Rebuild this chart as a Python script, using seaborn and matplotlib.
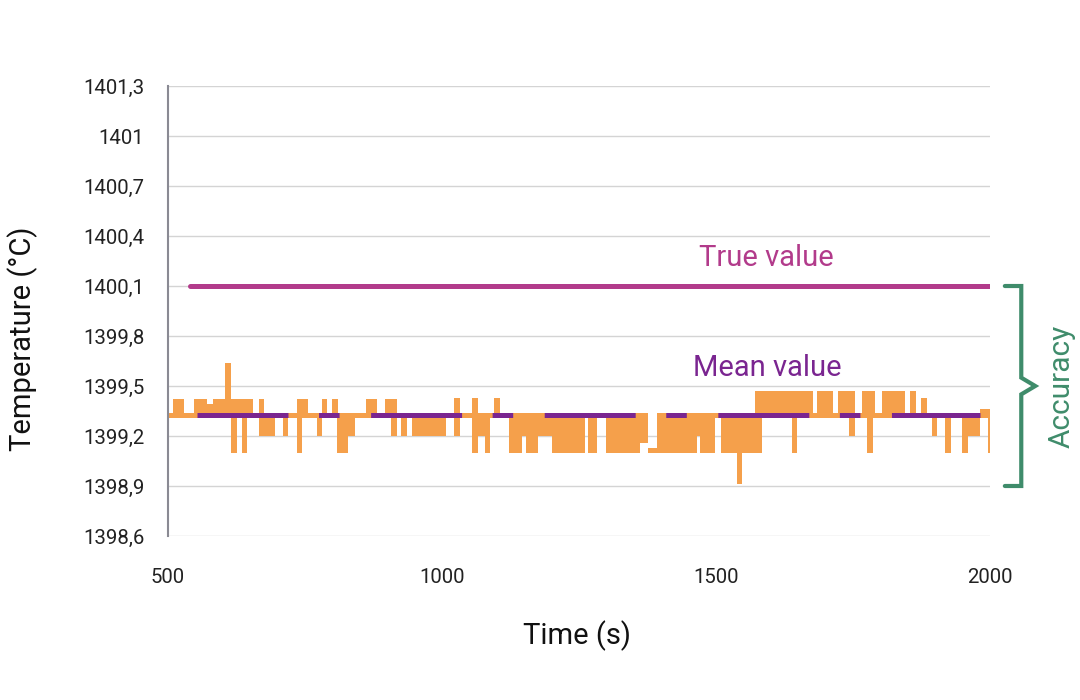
import matplotlib
matplotlib.use("Agg")
import matplotlib.pyplot as plt
import matplotlib.transforms as mtransforms
from matplotlib.ticker import FuncFormatter
import numpy as np
import pandas as pd
import seaborn as sns

# thermocouple readings, as a min / max envelope per time interval (interval start, s)
env_time = [500, 509, 529, 547, 571, 582, 604, 615, 626, 635, 644, 655, 666, 675, 695, 710, 719, 735,
            745, 755, 772, 781, 790, 799, 808, 810, 828, 841, 861, 881, 896, 907, 918, 925, 936, 945,
            1007, 1022, 1033, 1055, 1066, 1078, 1088, 1095, 1106, 1122, 1146, 1153, 1175, 1201, 1261,
            1266, 1283, 1299, 1361, 1376, 1392, 1465, 1471, 1498, 1509, 1538, 1547, 1571, 1584, 1639,
            1648, 1677, 1684, 1713, 1723, 1743, 1754, 1766, 1776, 1786, 1790, 1803, 1845, 1854, 1865,
            1874, 1885, 1894, 1903, 1918, 1929, 1949, 1960, 1982, 1996, 2000]
env_low = [1399.31, 1399.31, 1399.31, 1399.31, 1399.31, 1399.31, 1399.31, 1399.10, 1399.31, 1399.10,
           1399.31, 1399.31, 1399.20, 1399.20, 1399.31, 1399.20, 1399.31, 1399.10, 1399.31, 1399.31,
           1399.20, 1399.31, 1399.31, 1399.31, 1399.10, 1399.10, 1399.20, 1399.31, 1399.31, 1399.31,
           1399.31, 1399.20, 1399.31, 1399.20, 1399.31, 1399.20, 1399.31, 1399.20, 1399.31, 1399.10,
           1399.20, 1399.10, 1399.31, 1399.31, 1399.31, 1399.10, 1399.20, 1399.10, 1399.20, 1399.10,
           1399.31, 1399.10, 1399.31, 1399.10, 1399.16, 1399.10, 1399.10, 1399.20, 1399.10, 1399.31,
           1399.10, 1398.91, 1399.10, 1399.10, 1399.31, 1399.10, 1399.31, 1399.31, 1399.31, 1399.31,
           1399.31, 1399.20, 1399.31, 1399.31, 1399.10, 1399.31, 1399.31, 1399.31, 1399.31, 1399.31,
           1399.31, 1399.31, 1399.31, 1399.20, 1399.31, 1399.10, 1399.31, 1399.10, 1399.20, 1399.31,
           1399.10, 1399.10]
env_high = [1399.34, 1399.42, 1399.34, 1399.42, 1399.39, 1399.42, 1399.64, 1399.42, 1399.42, 1399.42,
            1399.42, 1399.34, 1399.42, 1399.34, 1399.34, 1399.34, 1399.34, 1399.42, 1399.42, 1399.34,
            1399.34, 1399.42, 1399.34, 1399.42, 1399.42, 1399.34, 1399.34, 1399.34, 1399.42, 1399.34,
            1399.42, 1399.42, 1399.34, 1399.34, 1399.34, 1399.34, 1399.34, 1399.43, 1399.34, 1399.43,
            1399.34, 1399.34, 1399.34, 1399.43, 1399.34, 1399.34, 1399.34, 1399.34, 1399.34, 1399.34,
            1399.34, 1399.34, 1399.34, 1399.34, 1399.34, 1399.13, 1399.34, 1399.34, 1399.34, 1399.34,
            1399.34, 1399.34, 1399.34, 1399.47, 1399.47, 1399.47, 1399.47, 1399.34, 1399.47, 1399.34,
            1399.47, 1399.47, 1399.34, 1399.47, 1399.47, 1399.47, 1399.34, 1399.47, 1399.34, 1399.47,
            1399.34, 1399.43, 1399.34, 1399.34, 1399.34, 1399.34, 1399.34, 1399.34, 1399.34, 1399.36,
            1399.36, 1399.36]

TRUE_VALUE = 1400.1
true_time = [540, 2000]
MEAN_VALUE = 1399.325
mean_time = [553, 1982]
ACC_LOW = 1398.9

y_ticks = [1398.6, 1398.9, 1399.2, 1399.5, 1399.8, 1400.1, 1400.4, 1400.7, 1401.0, 1401.3]
x_ticks = [500, 1000, 1500, 2000]

ORANGE = '#F5A04B'
PURPLE = '#7A2590'
MAGENTA = '#B23B8B'
GREEN = '#3F8C6B'

sns.set_theme(style="whitegrid")
plt.rcParams['font.family'] = ['Roboto', 'DejaVu Sans']
plt.rcParams['lines.scale_dashes'] = False

fig = plt.figure(figsize=(10.8, 7), dpi=100)
ax = fig.add_axes([0.1556, 0.2343, 0.7611, 0.6428])

env = pd.DataFrame({'time': env_time, 'low': env_low, 'high': env_high})
ax.fill_between(env['time'], env['low'], env['high'], step='post', color=ORANGE, linewidth=0, zorder=2)

true_df = pd.DataFrame({'time': true_time, 'temp': [TRUE_VALUE] * len(true_time)})
sns.lineplot(data=true_df, x='time', y='temp', color=MAGENTA, linewidth=3.6, ax=ax, zorder=3)

mean_df = pd.DataFrame({'time': mean_time, 'temp': [MEAN_VALUE] * len(mean_time)})
sns.lineplot(data=mean_df, x='time', y='temp', color=PURPLE, linewidth=3.6, ax=ax, zorder=4,
             linestyle=(0, (65.5, 22, 14.8, 22.7)))
ax.lines[-1].set_dash_capstyle('butt')

ax.text(1591, 1400.27, 'True value', color=MAGENTA, fontsize=21, ha='center', va='center')
ax.text(1593, 1399.61, 'Mean value', color=PURPLE, fontsize=21, ha='center', va='center')

# accuracy bracket to the right of the plot
trans = mtransforms.blended_transform_factory(ax.transAxes, ax.transData)
mid = (TRUE_VALUE + ACC_LOW) / 2
ax.plot([1.018, 1.038, 1.038, 1.055, 1.038, 1.038, 1.018],
        [TRUE_VALUE, TRUE_VALUE, mid + 0.05, mid, mid - 0.05, ACC_LOW, ACC_LOW],
        color=GREEN, linewidth=3, transform=trans, clip_on=False, solid_joinstyle='miter')
ax.text(1.087, mid, 'Accuracy', color=GREEN, fontsize=21.5, rotation=90,
        ha='center', va='center', transform=trans)

ax.set_xlim(500, 2000)
ax.set_ylim(1398.6, 1401.3)
ax.set_xticks(x_ticks)
ax.set_yticks(y_ticks)
ax.yaxis.set_major_formatter(FuncFormatter(
    lambda v, _: f'{v:.1f}'.replace('.', ',').replace(',0', '')))
ax.tick_params(axis='both', length=0, labelsize=14.7, colors='#222222')
ax.tick_params(axis='y', pad=17)
ax.tick_params(axis='x', pad=23)

ax.set_xlabel('Time (s)', fontsize=21, color='#111111')
ax.set_ylabel('Temperature (°C)', fontsize=21, color='#111111')
ax.xaxis.set_label_coords(0.498, -0.187)
ax.yaxis.set_label_coords(-0.158, 0.438)

ax.grid(axis='x', visible=False)
ax.grid(axis='y', color='#d4d4d4', linewidth=1)
ax.set_facecolor('white')
for side in ['top', 'right', 'bottom']:
    ax.spines[side].set_visible(False)
ax.spines['left'].set_color('#8a8a93')
ax.spines['left'].set_linewidth(1.5)

fig.savefig('out.png', dpi=100, facecolor='white')
